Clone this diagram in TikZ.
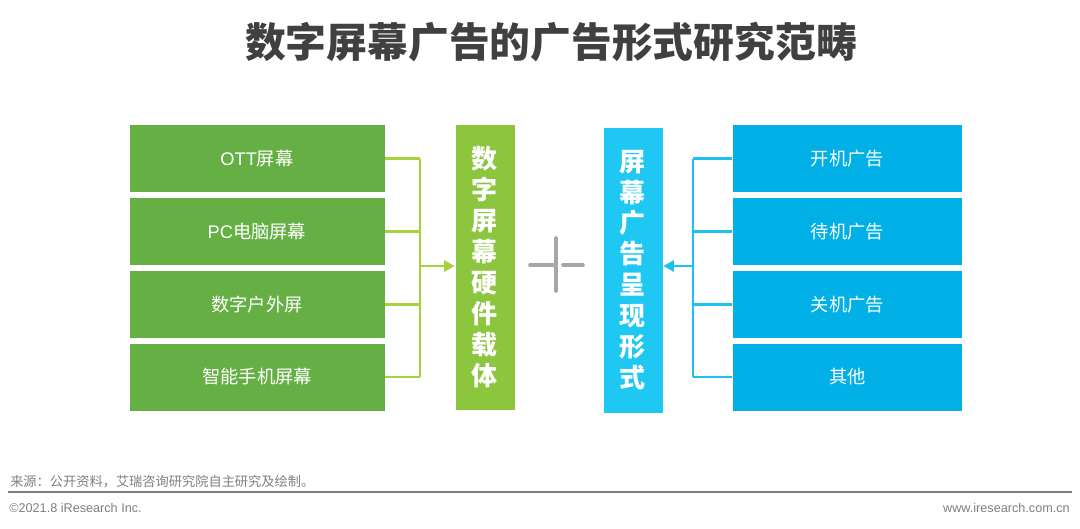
\documentclass[tikz,border=0pt]{standalone}
\usepackage{fontspec}
\setmainfont{Liberation Sans}
\newfontfamily\cjk{Noto Sans CJK SC}
\newfontfamily\lat{Liberation Sans}
\usepackage{xcolor}
\usetikzlibrary{arrows.meta}

\definecolor{titlegray}{HTML}{404040}
\definecolor{footgray}{HTML}{7F7F7F}
\definecolor{leafgreen}{HTML}{66AF45}
\definecolor{hwgreen}{HTML}{8CC63F}
\definecolor{linegreen}{HTML}{A8D23A}
\definecolor{leafblue}{HTML}{00B0E6}
\definecolor{formblue}{HTML}{1EC8F2}
\definecolor{lineblue}{HTML}{1EC0EE}
\definecolor{plusgray}{HTML}{A6A6A6}

\begin{document}
\begin{tikzpicture}[
  x=0.025cm, y=-0.025cm,
  font=\cjk,
  gbox/.style={fill=leafgreen, draw=white, line width=0.6pt, text=white,
    minimum width=6.4cm, minimum height=1.7cm, inner sep=0pt,
    font=\cjk\fontsize{13}{15}\selectfont},
  bbox/.style={gbox, fill=leafblue, minimum width=5.73cm},
  vbox/.style={draw=white, line width=0.6pt, text=white, minimum width=1.5cm,
    minimum height=7.15cm, inner sep=0pt, align=center,
    font=\cjk\bfseries\fontsize{18.5}{22}\selectfont},
  gline/.style={draw=linegreen, line width=1.6pt},
  bline/.style={draw=lineblue, line width=1.6pt},
  tip/.style={-{Triangle[length=2.6mm, width=2.8mm]}},
  plusline/.style={draw=plusgray, line width=2.6pt, line cap=round},
  foot/.style={text=footgray, inner sep=0pt},
]
\useasboundingbox (0,0) rectangle (1080,528);

% title
\node[text=titlegray, font=\cjk\bfseries\fontsize{29}{33}\selectfont] (title)
  at (551,42) {数字屏幕广告的广告形式研究范畴};

% hardware side
\foreach \i/\y/\t in {1/158.5/{{\lat OTT}屏幕}, 2/231.5/{{\lat PC}电脑屏幕}, 3/304.5/数字户外屏, 4/377/智能手机屏幕}
  \node[gbox] (g\i) at (257,\y) {\t};
\node[vbox, fill=hwgreen] (hw) at (485,267)
  {数\\字\\屏\\幕\\硬\\件\\载\\体};

% presentation side
\foreach \i/\y/\t in {1/158.5/开机广告, 2/231.5/待机广告, 3/304.5/关机广告, 4/377/其他}
  \node[bbox] (b\i) at (847.5,\y) {\t};
\node[vbox, fill=formblue] (form) at (633,270)
  {屏\\幕\\广\\告\\呈\\现\\形\\式};

% connectors
\coordinate (gj) at (420,266);
\foreach \i in {1,...,4}
  \draw[gline] (g\i.east) -- (g\i.east -| gj);
\draw[gline] (g1.east -| gj) -- (g4.east -| gj);
\draw[gline, tip, fill=linegreen] (gj) -- (gj -| hw.west);

\coordinate (bj) at (693,266);
\foreach \i in {1,...,4}
  \draw[bline] (b\i.west) -- (b\i.west -| bj);
\draw[bline] (b1.west -| bj) -- (b4.west -| bj);
\draw[bline, tip, fill=lineblue] (bj) -- (bj -| form.east);

% plus sign
\draw[plusline] (556,238) -- (556,291);
\draw[plusline] (530,265) -- (553,265);
\draw[plusline] (563,265) -- (583,265);

% footer
\node[foot, anchor=base west, font=\cjk\fontsize{9.4}{11}\selectfont] (src)
  at (10,486) {来源：公开资料，艾瑞咨询研究院自主研究及绘制。};
\draw[draw=footgray, line width=1.1pt] (8,492) -- (1072,492);
\node[foot, anchor=base west, font=\fontsize{9}{11}\selectfont] (copy)
  at (9,512) {©2021.8 iResearch Inc.};
\node[foot, anchor=base east, font=\fontsize{9}{11}\selectfont] (web)
  at (1070,512) {www.iresearch.com.cn};
\end{tikzpicture}
\end{document}
